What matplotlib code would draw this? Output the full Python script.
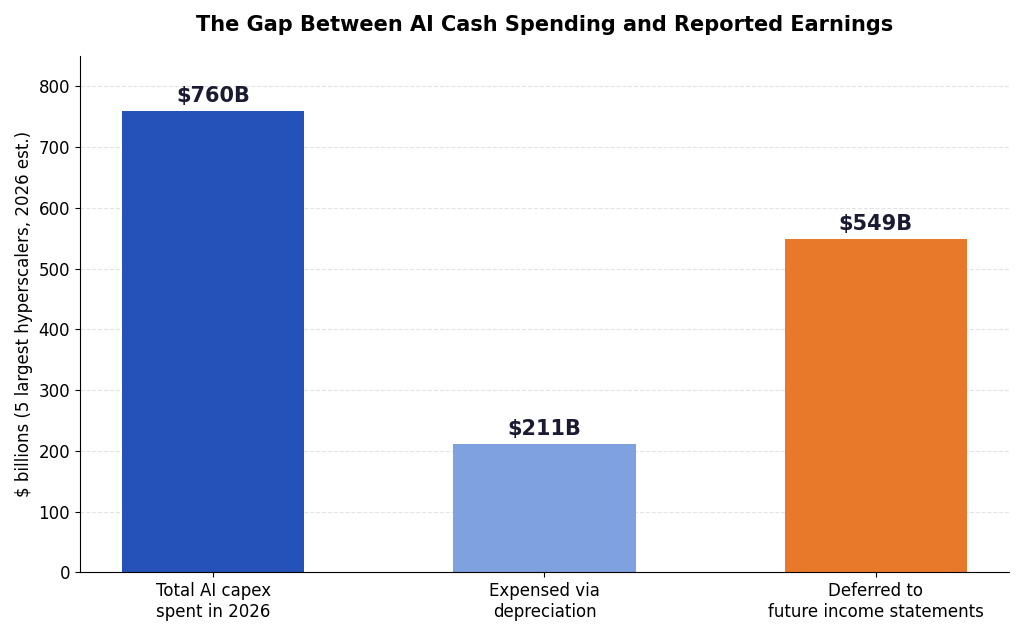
import matplotlib
matplotlib.use("Agg")
import matplotlib.pyplot as plt

categories = ["Total AI capex\nspent in 2026", "Expensed via\ndepreciation", "Deferred to\nfuture income statements"]
values = [760, 211, 549]
labels = ["$760B", "$211B", "$549B"]
colors = ["#2452b8", "#7fa1e0", "#e8792b"]

fig, ax = plt.subplots(figsize=(10.24, 6.36), dpi=100)
bars = ax.bar(categories, values, color=colors, width=0.55, zorder=2)
for b, lab in zip(bars, labels):
    ax.text(b.get_x() + b.get_width() / 2, b.get_height() + 8, lab,
            ha="center", va="bottom", fontsize=15, fontweight="bold", color="#1a1a33")

ax.set_ylim(0, 850)
ax.set_yticks(range(0, 801, 100))
ax.set_ylabel("$ billions (5 largest hyperscalers, 2026 est.)", fontsize=12)
ax.set_title("The Gap Between AI Cash Spending and Reported Earnings",
             fontsize=15, fontweight="bold", pad=18)
ax.grid(axis="y", linestyle="--", color="#dddddd", alpha=0.8, zorder=0)
ax.spines["top"].set_visible(False)
ax.spines["right"].set_visible(False)
ax.tick_params(labelsize=12)
plt.tight_layout()
plt.savefig("out.png")
